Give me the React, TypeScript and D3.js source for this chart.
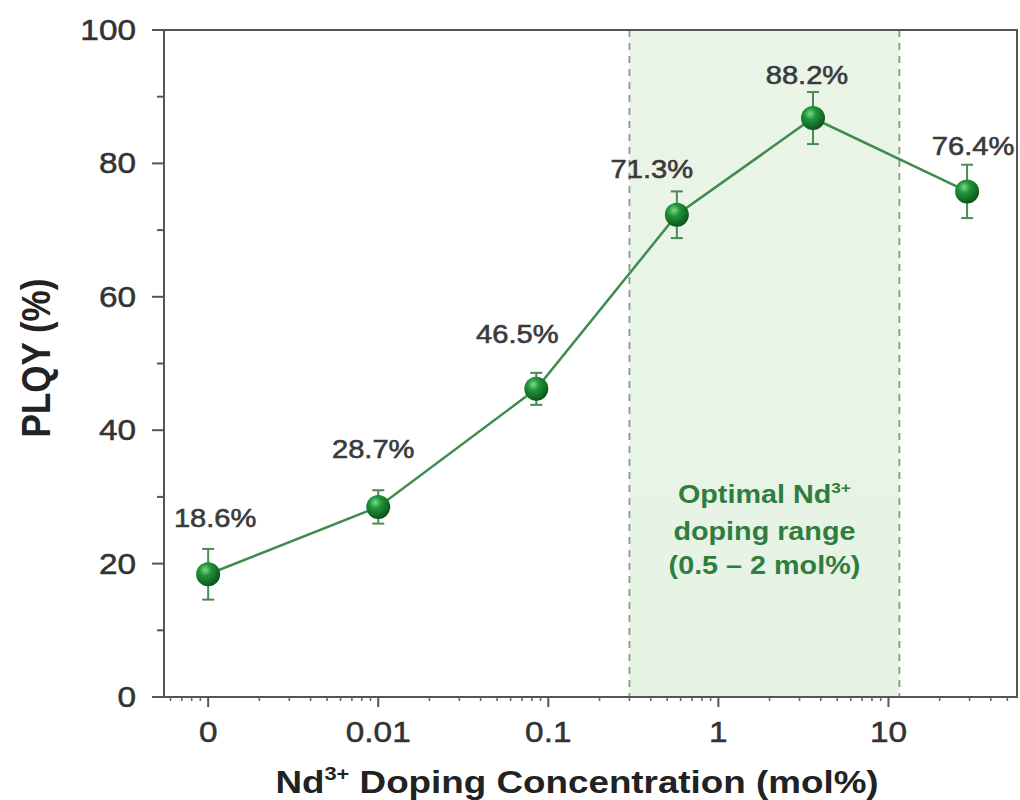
import React from "react";
import * as d3 from "d3";

const xTickLabels = ["0", "0.01", "0.1", "1", "10"];
const xTickValues = [0.001, 0.01, 0.1, 1, 10];
const concentrations = [0.001, 0.01, 0.085, 0.57, 3.6, 29];
const plqy = [18.4, 28.5, 46.2, 72.3, 86.8, 75.8];
const errors = [3.8, 2.5, 2.4, 3.5, 3.9, 4.0];
const valueLabels = ["18.6%", "28.7%", "46.5%", "71.3%", "88.2%", "76.4%"];
const bandRange = [0.3, 11.6];
const yTicks = [0, 20, 40, 60, 80, 100];
const yMinorTicks = [10, 30, 50, 70, 90];
const annotationLines = ["doping range", "(0.5 – 2 mol%)"];

// layout offsets for value labels (px, relative to marker)
const labelOffsets: [number, number][] = [
  [7, -47], [-5, -49], [-19, -46], [-25, -37], [-6, -34], [6, -36],
];

const W = 1020, H = 800;
const left = 164, right = 1017, top = 30, bottom = 697;
const SX = 1.15;

export default function App() {
  const x = d3.scaleLog().domain([0.00055, 57]).range([left, right]);
  const y = d3.scaleLinear().domain([0, 100]).range([bottom, top]);

  const minorX: number[] = [];
  for (let e = -4; e <= 1; e++) {
    for (let m = 2; m <= 9; m++) {
      const v = m * Math.pow(10, e);
      if (v > 0.00055 && v < 57) minorX.push(v);
    }
  }

  const line = d3.line<number>()
    .x((_, i) => x(concentrations[i]))
    .y((d) => y(d));

  const font = "'Liberation Sans', Arial, sans-serif";
  const green = "#3f8d4e";

  return (
    <div style={{ position: "absolute", left: 0, top: 0 }}>
      <svg width={W} height={H} style={{ display: "block", background: "#fff" }} fontFamily={font}>
        <defs>
          <radialGradient id="ball" cx="38%" cy="32%" r="70%">
            <stop offset="0%" stopColor="#7fd88a" />
            <stop offset="35%" stopColor="#22953a" />
            <stop offset="100%" stopColor="#0a5219" />
          </radialGradient>
          <linearGradient id="band" x1="0" y1="0" x2="0" y2="1">
            <stop offset="0%" stopColor="#eaf5e8" />
            <stop offset="100%" stopColor="#e6f3e3" />
          </linearGradient>
        </defs>

        {/* shaded band */}
        <rect x={x(bandRange[0])} y={top} width={x(bandRange[1]) - x(bandRange[0])} height={bottom - top} fill="url(#band)" />
        {bandRange.map((b, i) => (
          <line key={i} x1={x(b)} x2={x(b)} y1={top} y2={bottom} stroke="#7f9f82" strokeWidth={1.8} strokeDasharray="7,6" />
        ))}

        {/* frame */}
        <rect x={left} y={top} width={right - left} height={bottom - top} fill="none" stroke="#555" strokeWidth={2} />

        {/* y ticks */}
        {yTicks.map((t) => (
          <g key={t}>
            <line x1={left - 12} x2={left} y1={y(t)} y2={y(t)} stroke="#555" strokeWidth={2} />
            <text transform={`translate(${left - 28},${y(t) + 10}) scale(${SX},1)`} textAnchor="end" fontSize={29} fill="#333" stroke="#333" strokeWidth={0.5}>{t}</text>
          </g>
        ))}
        {yMinorTicks.map((t) => (
          <line key={t} x1={left - 7} x2={left} y1={y(t)} y2={y(t)} stroke="#555" strokeWidth={2} />
        ))}

        {/* x ticks */}
        {xTickValues.map((v, i) => (
          <g key={v}>
            <line x1={x(v)} x2={x(v)} y1={bottom} y2={bottom + 10} stroke="#555" strokeWidth={2} />
            <text transform={`translate(${x(v)},${bottom + 45}) scale(${SX},1)`} textAnchor="middle" fontSize={29} fill="#333" stroke="#333" strokeWidth={0.5}>{xTickLabels[i]}</text>
          </g>
        ))}
        {minorX.map((v) => (
          <line key={v} x1={x(v)} x2={x(v)} y1={bottom} y2={bottom + 4} stroke="#666" strokeWidth={1.6} />
        ))}

        {/* axis titles */}
        <text transform={`translate(${577},${793}) scale(${SX},1)`} textAnchor="middle" fontSize={32} fontWeight="bold" fill="#222">
          Nd<tspan fontSize={19} dy={-13}>3+</tspan><tspan dy={13}> Doping Concentration (mol%)</tspan>
        </text>
        <text transform={`translate(${50},${358}) scale(${SX},1) rotate(-90)`} textAnchor="middle" fontSize={35} fontWeight="bold" fill="#222">
          PLQY (%)
        </text>

        {/* annotation */}
        <text transform={`translate(${(x(bandRange[0]) + x(bandRange[1])) / 2},${503}) scale(${SX},1)`} textAnchor="middle" fontSize={25} fontWeight="bold" fill="#2f7d3f">
          Optimal Nd<tspan fontSize={15} dy={-10}>3+</tspan>
        </text>
        {annotationLines.map((l, i) => (
          <text key={i} transform={`translate(${(x(bandRange[0]) + x(bandRange[1])) / 2},${540 + i * 34}) scale(${SX},1)`} textAnchor="middle" fontSize={25} fontWeight="bold" fill="#2f7d3f">
            {l}
          </text>
        ))}

        {/* line */}
        <path d={line(plqy) || ""} fill="none" stroke={green} strokeWidth={2.5} />

        {/* error bars + markers */}
        {plqy.map((v, i) => {
          const cx = x(concentrations[i]);
          const y1 = y(v + errors[i]);
          const y2 = y(v - errors[i]);
          return (
            <g key={i}>
              <line x1={cx} x2={cx} y1={y1} y2={y2} stroke="#4a8a55" strokeWidth={2} />
              <line x1={cx - 6} x2={cx + 6} y1={y1} y2={y1} stroke="#4a8a55" strokeWidth={2} />
              <line x1={cx - 6} x2={cx + 6} y1={y2} y2={y2} stroke="#4a8a55" strokeWidth={2} />
              <circle cx={cx} cy={y(v)} r={12} fill="url(#ball)" />
            </g>
          );
        })}

        {/* value labels */}
        {valueLabels.map((l, i) => (
          <text key={i}
            transform={`translate(${x(concentrations[i]) + labelOffsets[i][0]},${y(plqy[i]) + labelOffsets[i][1]}) scale(1.12,1)`}
            textAnchor="middle" fontSize={26} fill="#3a3a3a" stroke="#3a3a3a" strokeWidth={0.6}>
            {l}
          </text>
        ))}
      </svg>
    </div>
  );
}
